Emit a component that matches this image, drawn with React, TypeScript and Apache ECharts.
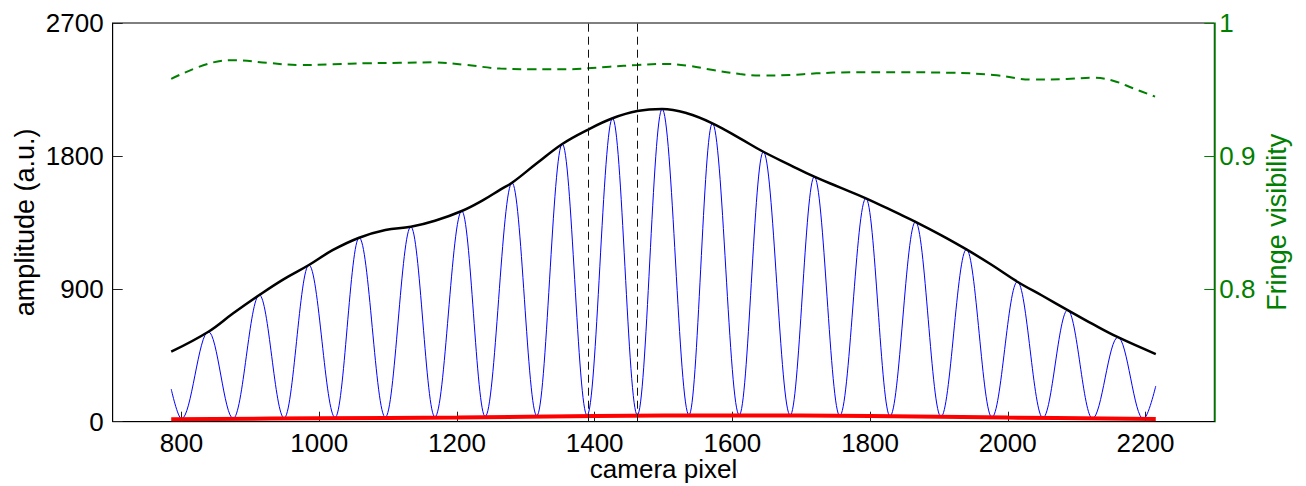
import React, { useEffect, useRef } from "react";
import * as echarts from "echarts";

// Axis tick values
const xTicks = [800, 1000, 1200, 1400, 1600, 1800, 2000, 2200];
const yLeftTicks = [0, 900, 1800, 2700];
const yRightTicks = [0.8, 0.9, 1];

// Fringe signal (blue): ends, peaks and troughs
const fringeStartX = 785;
const fringeStartY = 221;
const fringeEndX = 2215;
const fringeEndY = 242;
const peakX = [839, 913, 985, 1058, 1133, 1207, 1280, 1353, 1426, 1498, 1571, 1645, 1719, 1794, 1866, 1940, 2014, 2087, 2160];
const peakY = [610, 858, 1061, 1246, 1320, 1427, 1618, 1881, 2055, 2118, 2021, 1828, 1659, 1513, 1354, 1167, 948, 756, 572];
const troughX = [800, 875, 949, 1023, 1096, 1168, 1241, 1316, 1389, 1462, 1537, 1610, 1684, 1756, 1829, 1903, 1977, 2051, 2123, 2197];
const troughY = [20, 22, 25, 28, 30, 32, 35, 40, 43, 45, 45, 45, 43, 40, 37, 33, 30, 26, 22, 18];

// Envelope (black)
const envX = [785, 839, 875, 913, 948, 985, 1020, 1058, 1096, 1133, 1168, 1207, 1238, 1263, 1280, 1316, 1353, 1389, 1426, 1462, 1498, 1534, 1571, 1611, 1645, 1684, 1719, 1756, 1794, 1843, 1866, 1903, 1940, 1977, 2014, 2051, 2087, 2123, 2160, 2215];
const envY = [474, 609, 734, 858, 964, 1061, 1163, 1246, 1298, 1320, 1361, 1427, 1501, 1572, 1618, 1750, 1881, 1975, 2055, 2104, 2118, 2089, 2021, 1919, 1828, 1738, 1659, 1587, 1513, 1405, 1354, 1264, 1167, 1061, 948, 851, 756, 662, 572, 458];

// Fringe visibility (green dashed, right axis)
const visX = [785, 841, 880, 924, 972, 1020, 1069, 1117, 1166, 1214, 1263, 1311, 1359, 1389, 1422, 1462, 1498, 1534, 1572, 1611, 1645, 1684, 1722, 1771, 1843, 1916, 1979, 2037, 2086, 2124, 2153, 2182, 2214];
const visY = [0.958, 0.9697, 0.972, 0.970, 0.9684, 0.9689, 0.9697, 0.970, 0.9704, 0.9684, 0.9657, 0.9652, 0.9652, 0.9659, 0.9671, 0.9684, 0.9692, 0.968, 0.9646, 0.9616, 0.9604, 0.9609, 0.9621, 0.9629, 0.9629, 0.9626, 0.9609, 0.9574, 0.9579, 0.9588, 0.9566, 0.9509, 0.9446];

// Background (red)
const bgX = [785, 1000, 1200, 1400, 1600, 1800, 2000, 2215];
const bgY = [16, 23, 28, 39, 42, 39, 28, 18];

// Vertical dashed markers
const markerX = [1390, 1462];

const zip = (xs: number[], ys: number[]) => xs.map((x, i) => [x, ys[i]]);

export default function App() {
  const ref = useRef<HTMLDivElement>(null);
  useEffect(() => {
    if (!ref.current) return;
    const chart = echarts.init(ref.current, undefined, { renderer: "svg" });
    const fringe = [
      [fringeStartX, fringeStartY],
      ...zip(peakX, peakY),
      ...zip(troughX, troughY),
      [fringeEndX, fringeEndY],
    ].sort((a, b) => a[0] - b[0]);
    const font = "Liberation Sans, Arial, Helvetica, sans-serif";
    const plain = (v: number) => String(Math.round(v * 1000) / 1000);
    chart.setOption({
      animation: false,
      backgroundColor: "#ffffff",
      textStyle: { fontFamily: font },
      grid: {
        left: 112.7,
        top: 23,
        width: 1101.6,
        height: 398.7,
        show: true,
        borderColor: "#000",
        borderWidth: 1,
        backgroundColor: "transparent",
        containLabel: false,
        outerBoundsMode: "none",
      },
      xAxis: {
        type: "value",
        min: 700,
        max: 2300,
        name: "camera pixel",
        nameLocation: "middle",
        nameGap: 34,
        nameMoveOverlap: false,
        nameTextStyle: { fontSize: 26, color: "#000", fontFamily: font, lineHeight: 26 },
        axisLine: { lineStyle: { color: "#000", width: 1 } },
        axisTick: { inside: true, length: 10, customValues: xTicks, lineStyle: { color: "#222" } },
        axisLabel: { customValues: xTicks, fontSize: 26, color: "#000", margin: 8, fontFamily: font, formatter: plain },
        splitLine: { show: false },
      },
      yAxis: [
        {
          type: "value",
          position: "left",
          min: 0,
          max: 2700,
          interval: 900,
          name: "amplitude (a.u.)",
          nameLocation: "middle",
          nameGap: 74,
          nameMoveOverlap: false,
          nameTextStyle: { fontSize: 27, color: "#000", fontFamily: font },
          axisLine: { show: true, lineStyle: { color: "#000", width: 1 } },
          axisTick: { show: true, inside: true, length: 10, customValues: yLeftTicks, lineStyle: { color: "#222" } },
          axisLabel: { customValues: yLeftTicks, fontSize: 26, color: "#000", margin: 9, fontFamily: font, formatter: plain },
          splitLine: { show: false },
        },
        {
          type: "value",
          position: "right",
          min: 0.7,
          max: 1,
          name: "Fringe visibility",
          nameLocation: "middle",
          nameGap: 49,
          nameMoveOverlap: false,
          nameTextStyle: { fontSize: 27, color: "#008000", fontFamily: font },
          axisLine: { show: true, lineStyle: { color: "#008000", width: 1.5 } },
          axisTick: { show: true, inside: true, length: 10, customValues: yRightTicks, lineStyle: { color: "#008000" } },
          axisLabel: { customValues: yRightTicks, fontSize: 26, color: "#008000", margin: 5, fontFamily: font, formatter: plain },
          splitLine: { show: false },
        },
      ],
      series: [
        {
          type: "line",
          name: "fringe",
          data: fringe,
          symbol: "none",
          smooth: 0.36,
          smoothMonotone: "x",
          lineStyle: { color: "#0000ff", width: 1 },
          z: 2,
        },
        {
          type: "line",
          name: "envelope",
          data: zip(envX, envY),
          symbol: "none",
          smooth: 0.4,
          lineStyle: { color: "#000000", width: 2.5 },
          z: 3,
          markLine: {
            silent: true,
            symbol: ["none", "none"],
            label: { show: false },
            lineStyle: { color: "#111", width: 1, type: [8, 5] },
            data: markerX.map((x) => ({ xAxis: x })),
          },
        },
        {
          type: "line",
          name: "background",
          data: zip(bgX, bgY),
          symbol: "none",
          smooth: 0.4,
          lineStyle: { color: "#ff0000", width: 4 },
          z: 4,
        },
        {
          type: "line",
          name: "visibility",
          yAxisIndex: 1,
          data: zip(visX, visY),
          symbol: "none",
          smooth: 0.4,
          lineStyle: { color: "#008000", width: 2, type: [9, 6] },
          z: 4,
        },
      ],
    });
    return () => chart.dispose();
  }, []);
  return (
    <div
      ref={ref}
      style={{ position: "absolute", left: 0, top: 0, width: "1306px", height: "486px" }}
    />
  );
}
